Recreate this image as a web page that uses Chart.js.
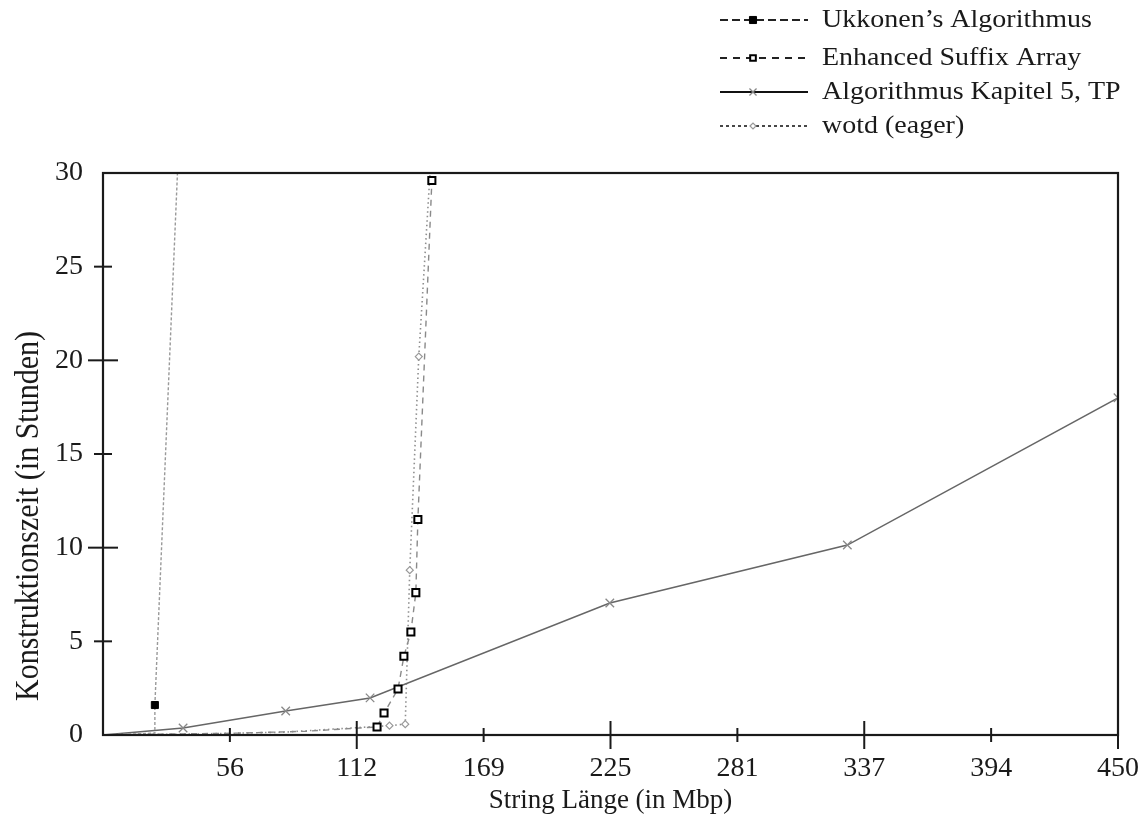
<!DOCTYPE html>
<html>
<head>
<meta charset="utf-8">
<script src="https://cdn.jsdelivr.net/npm/chart.js@4/dist/chart.umd.min.js"></script>
<style>
  html, body { margin: 0; padding: 0; background: #fff; }
  #wrap { width: 1142px; height: 818px; position: relative; }
</style>
</head>
<body>
<div id="wrap"><canvas id="chart"></canvas></div>
<script>
// values (x in Mbp, y in hours)
const seriesNames = ["Ukkonen\u2019s Algorithmus", "Enhanced Suffix Array", "Algorithmus Kapitel 5, TP", "wotd (eager)"];

const ukkonenX = [0, 12, 23, 23, 34];
const ukkonenY = [0, 0.05, 0.1, 1.6, 32.8];

const esaX = [0, 30, 60, 90, 121.5, 124.6, 130.8, 133.4, 136.5, 138.7, 139.6, 145.8];
const esaY = [0, 0.05, 0.1, 0.2, 0.43, 1.17, 2.46, 4.2, 5.5, 7.6, 11.5, 29.6];

const tpX = [0, 35.5, 81, 118.4, 224.7, 330, 450];
const tpY = [0, 0.37, 1.28, 1.98, 7.05, 10.14, 18.0];

const wotdX = [0, 40, 80, 127, 134, 136, 140, 145.5];
const wotdY = [0, 0.05, 0.15, 0.5, 0.58, 8.8, 20.2, 31];

const xMax = 450;
const xTickLabels = ["", "56", "112", "169", "225", "281", "337", "394", "450"];
const yTickValues = [0, 5, 10, 15, 20, 25, 30];
const yTitle = 'Konstruktionszeit (in Stunden)';
const xTitle = 'String L\u00e4nge (in Mbp)';

const serif = "'Liberation Serif', 'DejaVu Serif', serif";
const ink = '#1a1a1a';

function toPoints(xs, ys) {
    return xs.map((x, i) => ({ x: x, y: ys[i] }));
}

// tick marks crossing the axes + full frame + y title
const framePlugin = {
    id: 'frame',
    afterDatasetsDraw(chart) {
        const ctx = chart.ctx;
        const a = chart.chartArea;
        const xs = chart.scales.x;
        const ys = chart.scales.y;
        ctx.save();
        ctx.strokeStyle = ink;
        ctx.lineWidth = 2.2;
        ctx.strokeRect(a.left, a.top, a.right - a.left, a.bottom - a.top);
        ctx.lineWidth = 2;
        xs.ticks.forEach((t, i) => {
            if (i === 0) return;
            const px = xs.getPixelForValue(t.value);
            const len = i % 2 === 0 ? 14 : 7;
            ctx.beginPath();
            ctx.moveTo(px, a.bottom - len);
            ctx.lineTo(px, a.bottom + len);
            ctx.stroke();
        });
        ys.ticks.forEach(t => {
            if (t.value === 0 || t.value === 30) return;
            const py = ys.getPixelForValue(t.value);
            const len = t.value % 10 === 0 ? 15 : 9;
            ctx.beginPath();
            ctx.moveTo(a.left - len, py);
            ctx.lineTo(a.left + len, py);
            ctx.stroke();
        });

        // y axis title, sits a bit below the middle in the original
        ctx.translate(29, 516);
        ctx.rotate(-Math.PI / 2);
        ctx.scale(1, 1.15);
        ctx.fillStyle = ink;
        ctx.font = "30px " + serif;
        ctx.textAlign = 'center';
        ctx.textBaseline = 'middle';
        ctx.fillText(yTitle, 0, 0);
        ctx.restore();
    }
};

// legend in the top right corner, lines drawn with each dataset's style
const legendPlugin = {
    id: 'lineLegend',
    afterDraw(chart) {
        const ctx = chart.ctx;
        const rows = [20, 58, 92, 126];
        ctx.save();
        chart.data.datasets.forEach((ds, i) => {
            const y = rows[i];
            ctx.strokeStyle = ds.legendLine;
            ctx.lineWidth = 1.8;
            ctx.setLineDash(ds.legendDash);
            ctx.beginPath();
            ctx.moveTo(720, y);
            ctx.lineTo(808, y);
            ctx.stroke();
            ctx.setLineDash([]);
            ctx.fillStyle = ds.pointBackgroundColor;
            ctx.strokeStyle = ds.pointBorderColor;
            ctx.lineWidth = ds.pointBorderWidth || 1;
            Chart.helpers.drawPoint(ctx, {
                pointStyle: ds.pointStyle,
                radius: ds.legendRadius,
                rotation: 0,
                borderWidth: ds.pointBorderWidth || 1
            }, 753, y);
            ctx.save();
            ctx.translate(822, y);
            ctx.scale(1.12, 1);
            ctx.fillStyle = ink;
            ctx.font = "25px " + serif;
            ctx.textBaseline = 'middle';
            ctx.textAlign = 'left';
            ctx.fillText(ds.label, 0, 0);
            ctx.restore();
        });
        ctx.restore();
    }
};

new Chart(document.getElementById('chart'), {
    type: 'scatter',
    data: {
        datasets: [
            {
                label: seriesNames[0],
                data: toPoints(ukkonenX, ukkonenY),
                showLine: true,
                borderColor: '#9a9a9a',
                legendLine: '#222',
                legendDash: [8, 4],
                borderWidth: 1.4,
                borderDash: [3, 2],
                pointStyle: 'rect',
                pointRadius: [0, 0, 0, 5, 0],
                legendRadius: 5,
                pointBackgroundColor: '#000',
                pointBorderColor: '#000',
                pointBorderWidth: 1
            },
            {
                label: seriesNames[1],
                data: toPoints(esaX, esaY),
                showLine: true,
                borderColor: '#8a8a8a',
                legendLine: '#222',
                legendDash: [7, 6],
                borderWidth: 1.4,
                borderDash: [6, 5],
                pointStyle: 'rect',
                pointRadius: [0, 0, 0, 0, 5, 5, 5, 5, 5, 5, 5, 5],
                legendRadius: 4,
                pointBackgroundColor: '#fff',
                pointBorderColor: '#000',
                pointBorderWidth: 2
            },
            {
                label: seriesNames[2],
                data: toPoints(tpX, tpY),
                showLine: true,
                borderColor: '#666',
                legendLine: '#111',
                legendDash: [],
                borderWidth: 1.5,
                pointStyle: 'crossRot',
                pointRadius: [0, 6, 6, 6, 6, 6, 6],
                legendRadius: 5,
                pointBackgroundColor: '#888',
                pointBorderColor: '#888',
                pointBorderWidth: 1.3
            },
            {
                label: seriesNames[3],
                data: toPoints(wotdX, wotdY),
                showLine: true,
                borderColor: '#8f8f8f',
                legendLine: '#333',
                legendDash: [3, 3],
                borderWidth: 1.6,
                borderDash: [1.5, 3],
                pointStyle: 'rectRot',
                pointRadius: [0, 0, 0, 3.5, 3.5, 3.5, 3.5, 0],
                legendRadius: 3,
                pointBackgroundColor: '#fff',
                pointBorderColor: '#999',
                pointBorderWidth: 1.2
            }
        ]
    },
    options: {
        responsive: true,
        maintainAspectRatio: false,
        animation: false,
        layout: { padding: { top: 173, right: 24, left: 0, bottom: 0 } },
        plugins: {
            legend: { display: false },
            tooltip: { enabled: false }
        },
        elements: { line: { tension: 0 } },
        scales: {
            x: {
                type: 'linear',
                min: 0,
                max: xMax,
                afterBuildTicks(scale) {
                    scale.ticks = xTickLabels.map((l, i) => ({ value: i * xMax / (xTickLabels.length - 1) }));
                },
                afterFit(scale) {
                    scale.height = 83;
                    scale.paddingLeft = 0;
                    scale.paddingRight = 0;
                },
                grid: { display: false, drawTicks: false },
                border: { display: false },
                ticks: {
                    padding: 17,
                    color: ink,
                    font: { family: serif, size: 28 },
                    callback: (v, i) => xTickLabels[i]
                },
                title: {
                    display: true,
                    text: xTitle,
                    color: ink,
                    font: { family: serif, size: 27 },
                    padding: { top: 0, bottom: 1 }
                }
            },
            y: {
                type: 'linear',
                min: 0,
                max: 30,
                afterBuildTicks(scale) {
                    scale.ticks = yTickValues.map(v => ({ value: v }));
                },
                afterFit(scale) {
                    scale.width = 103;
                    scale.paddingTop = 0;
                    scale.paddingBottom = 0;
                },
                grid: { display: false, drawTicks: false },
                border: { display: false },
                ticks: {
                    padding: 20,
                    color: ink,
                    font: { family: serif, size: 28 }
                },
                title: { display: false }
            }
        }
    },
    plugins: [framePlugin, legendPlugin]
});
</script>
</body>
</html>
